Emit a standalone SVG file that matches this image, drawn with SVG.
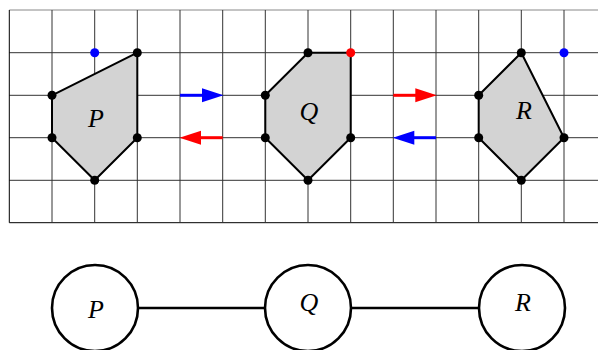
<svg xmlns="http://www.w3.org/2000/svg" width="598" height="350" viewBox="0 0 598 350">
<style>
.g{stroke:#333;stroke-width:1;fill:none}
.poly{fill:#d3d3d3;stroke:#000;stroke-width:2;stroke-linejoin:round}
.v{fill:#000}
.lbl{font-family:"Liberation Serif",serif;font-style:italic;font-size:26px;text-anchor:middle;fill:#000}
.node{fill:#fff;stroke:#000;stroke-width:2.6}
.edge{stroke:#000;stroke-width:2.6}
.ab{stroke:#00f;stroke-width:3}
.ar{stroke:#f00;stroke-width:3}
</style>
<rect width="598" height="350" fill="#fff"/>
<g id="grid" class="g">
<line x1="9.3" y1="10" x2="598" y2="10" stroke="#888"/>
<line x1="9.3" y1="52.7" x2="598" y2="52.7"/>
<line x1="9.3" y1="95.3" x2="598" y2="95.3"/>
<line x1="9.3" y1="137.7" x2="598" y2="137.7"/>
<line x1="9.3" y1="180.3" x2="598" y2="180.3"/>
<line x1="9.3" y1="222.7" x2="598" y2="222.7" stroke="#000"/>
<line x1="9.3" y1="10" x2="9.3" y2="222.7" stroke="#000"/>
<line x1="52" y1="10" x2="52" y2="222.7"/>
<line x1="94.7" y1="10" x2="94.7" y2="222.7"/>
<line x1="137.3" y1="10" x2="137.3" y2="222.7"/>
<line x1="180" y1="10" x2="180" y2="222.7"/>
<line x1="222.7" y1="10" x2="222.7" y2="222.7"/>
<line x1="265.3" y1="10" x2="265.3" y2="222.7"/>
<line x1="308" y1="10" x2="308" y2="222.7"/>
<line x1="350.7" y1="10" x2="350.7" y2="222.7"/>
<line x1="393.3" y1="10" x2="393.3" y2="222.7"/>
<line x1="436" y1="10" x2="436" y2="222.7"/>
<line x1="478.7" y1="10" x2="478.7" y2="222.7"/>
<line x1="521.3" y1="10" x2="521.3" y2="222.7"/>
<line x1="564" y1="10" x2="564" y2="222.7"/>
</g>
<g id="polyP">
<polygon class="poly" points="52,95.3 137.3,52.7 137.3,137.7 94.7,180.3 52,137.7"/>
<circle class="v" cx="52" cy="95.3" r="4.5"/>
<circle class="v" cx="137.3" cy="52.7" r="4.5"/>
<circle class="v" cx="137.3" cy="137.7" r="4.5"/>
<circle class="v" cx="94.7" cy="180.3" r="4.5"/>
<circle class="v" cx="52" cy="137.7" r="4.5"/>
<circle cx="94.7" cy="52.7" r="4.5" fill="#00f"/>
<text class="lbl" x="96" y="126.5">P</text>
</g>
<g id="polyQ">
<polygon class="poly" points="265.3,95.3 308,52.7 350.7,52.7 350.7,137.7 308,180.3 265.3,137.7"/>
<circle class="v" cx="265.3" cy="95.3" r="4.5"/>
<circle class="v" cx="308" cy="52.7" r="4.5"/>
<circle cx="350.7" cy="52.7" r="4.5" fill="#f00"/>
<circle class="v" cx="350.7" cy="137.7" r="4.5"/>
<circle class="v" cx="308" cy="180.3" r="4.5"/>
<circle class="v" cx="265.3" cy="137.7" r="4.5"/>
<text class="lbl" x="309" y="119.5">Q</text>
</g>
<g id="polyR">
<polygon class="poly" points="478.7,95.3 521.3,52.7 564,137.7 521.3,180.3 478.7,137.7"/>
<circle class="v" cx="478.7" cy="95.3" r="4.5"/>
<circle class="v" cx="521.3" cy="52.7" r="4.5"/>
<circle class="v" cx="564" cy="137.7" r="4.5"/>
<circle class="v" cx="521.3" cy="180.3" r="4.5"/>
<circle class="v" cx="478.7" cy="137.7" r="4.5"/>
<circle cx="564" cy="52.7" r="4.5" fill="#00f"/>
<text class="lbl" x="524" y="119.3">R</text>
</g>
<g id="arrows">
<line class="ab" x1="180" y1="95.3" x2="204" y2="95.3"/>
<polygon fill="#00f" points="223.5,95.3 202,88.3 202,102.3"/>
<line class="ar" x1="222.7" y1="137.7" x2="199" y2="137.7"/>
<polygon fill="#f00" points="179.5,137.7 201,130.7 201,144.7"/>
<line class="ar" x1="393.3" y1="95.3" x2="417" y2="95.3"/>
<polygon fill="#f00" points="436.8,95.3 415.3,88.3 415.3,102.3"/>
<line class="ab" x1="436" y1="137.7" x2="412" y2="137.7"/>
<polygon fill="#00f" points="392.8,137.7 414.3,130.7 414.3,144.7"/>
</g>
<g id="edges">
<line class="edge" x1="138" y1="308" x2="265" y2="308"/>
<line class="edge" x1="351" y1="308" x2="479" y2="308"/>
</g>
<g id="nodeP">
<circle class="node" cx="95" cy="308" r="43"/>
<text class="lbl" x="96" y="318">P</text>
</g>
<g id="nodeQ">
<circle class="node" cx="308" cy="308" r="43"/>
<text class="lbl" x="309" y="310.5">Q</text>
</g>
<g id="nodeR">
<circle class="node" cx="522" cy="308" r="43"/>
<text class="lbl" x="523" y="311">R</text>
</g>
</svg>
